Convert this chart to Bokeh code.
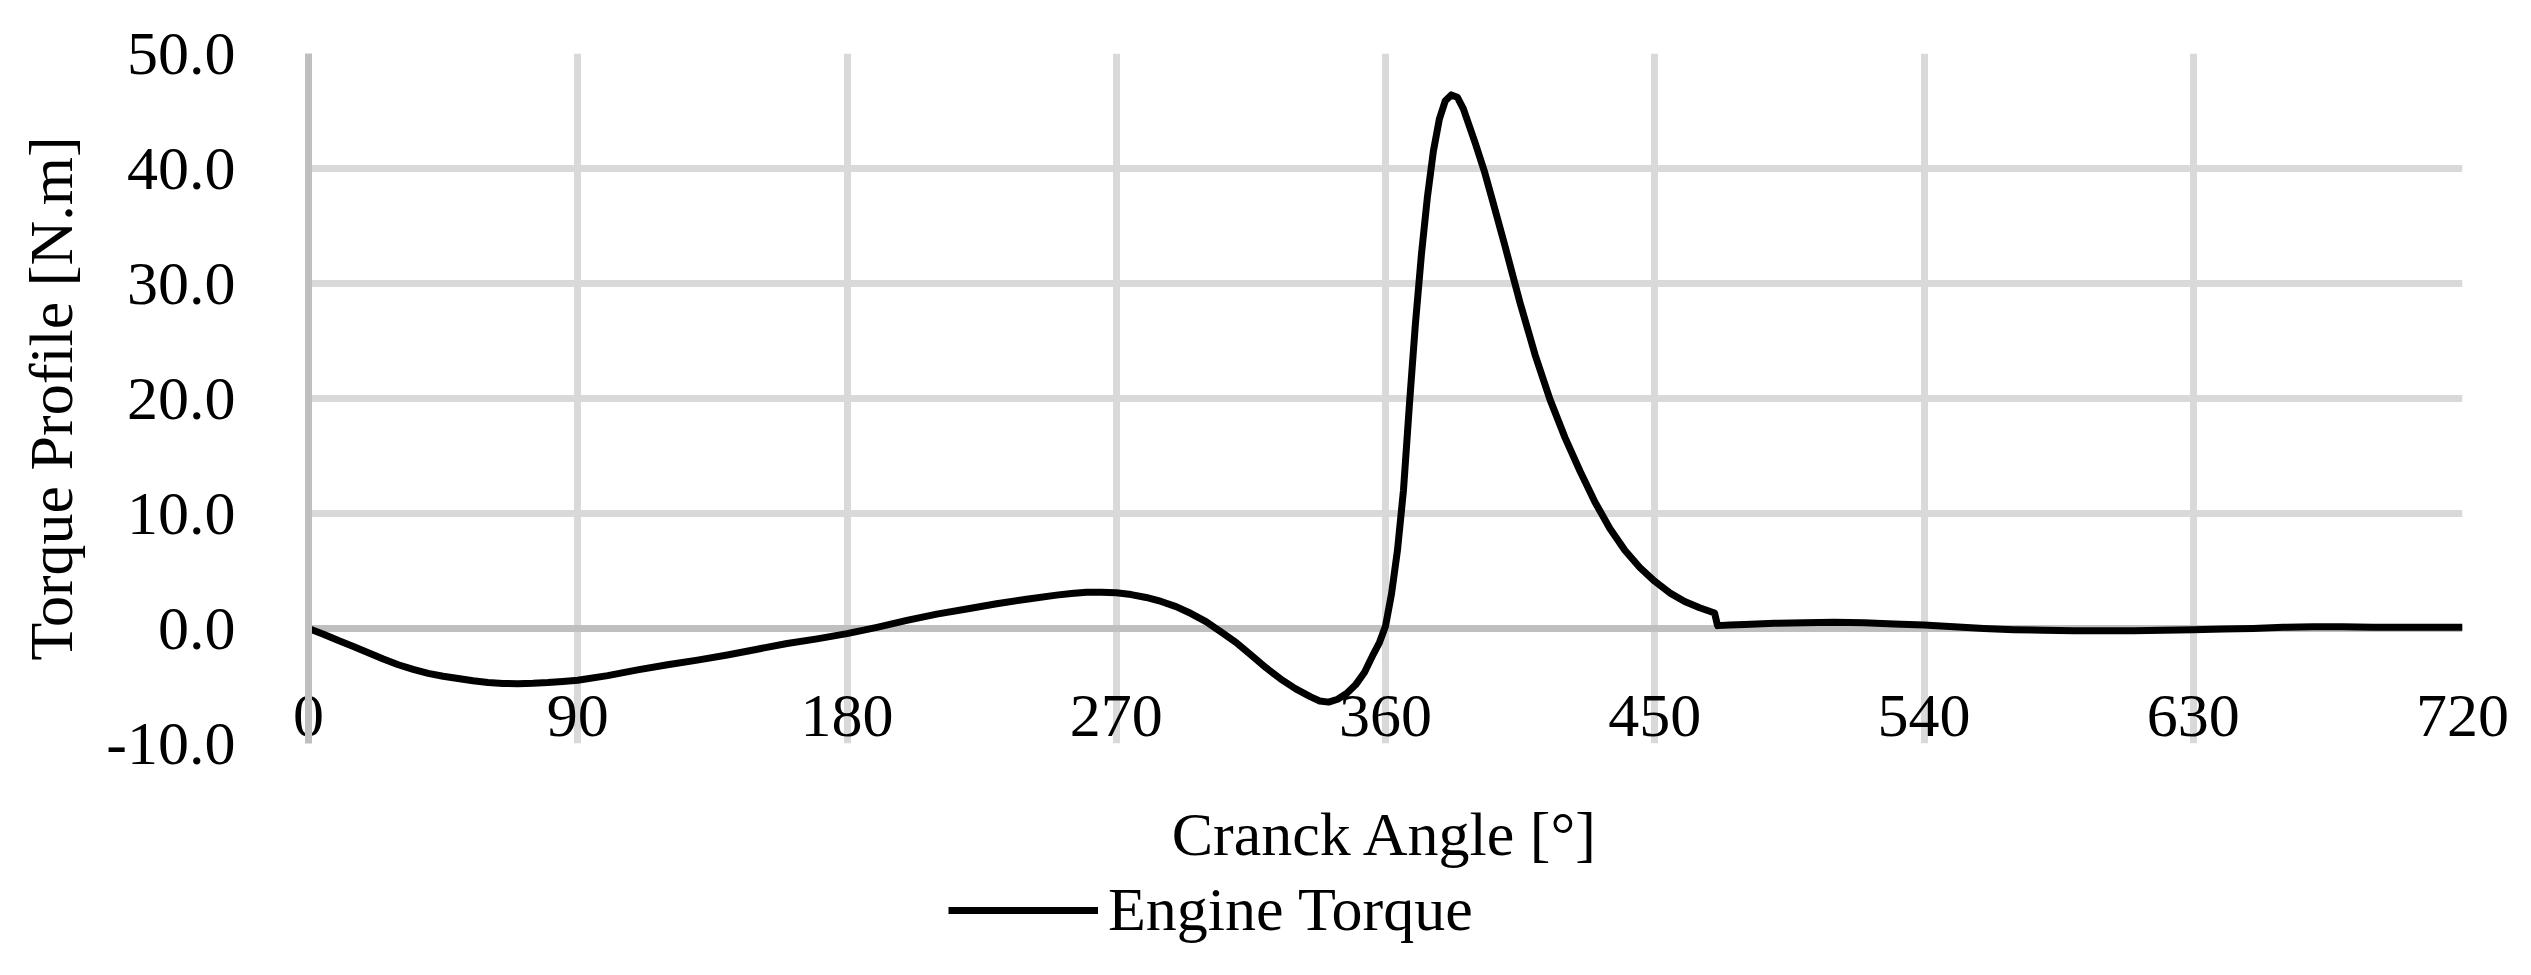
from bokeh.plotting import figure
from bokeh.layouts import column
from bokeh.models import Range1d, FixedTicker, Span, Legend, LegendItem, NumeralTickFormatter
from bokeh.embed import file_html
from bokeh.resources import INLINE

angle = [0, 5, 10, 15, 20, 25, 30, 35, 40, 45, 50, 55, 60, 65, 70, 75, 80, 85, 90,
         100, 110, 120, 130, 140, 150, 160, 170, 180, 190, 200, 210, 220, 230, 240,
         250, 255, 260, 265, 270, 275, 280, 285, 290, 295, 300, 305, 310, 315, 320,
         325, 330, 335, 338, 341, 344, 347, 350, 353, 356, 358, 360, 362, 364, 366,
         368, 370, 372, 374, 376, 378, 380, 382, 384, 386, 388, 390, 393, 396, 400,
         405, 410, 415, 420, 425, 430, 435, 440, 445, 450, 455, 460, 465, 470, 471,
         475, 480, 490, 500, 510, 520, 530, 540, 550, 560, 570, 580, 590, 600, 610,
         620, 630, 640, 650, 660, 670, 680, 690, 700, 710, 720]
torque = [0.0, -0.5, -1.05, -1.56, -2.1, -2.65, -3.15, -3.55, -3.9, -4.15, -4.35, -4.55,
          -4.7, -4.78, -4.8, -4.77, -4.7, -4.6, -4.5,
          -4.1, -3.6, -3.15, -2.75, -2.3, -1.8, -1.3, -0.9, -0.45, 0.1, 0.7, 1.25, 1.7,
          2.15, 2.55, 2.9, 3.05, 3.15, 3.15, 3.1, 2.95, 2.7, 2.35, 1.9, 1.3, 0.6, -0.3,
          -1.2, -2.3, -3.4, -4.4, -5.25, -5.95, -6.3, -6.4, -6.15, -5.65, -4.9, -3.8,
          -2.2, -1.2, 0.2, 3.0, 6.8, 12.0, 19.5, 26.5, 32.5, 37.5, 41.5, 44.3, 45.9,
          46.4, 46.2, 45.2, 43.7, 42.2, 39.8, 37.0, 33.2, 28.3, 23.8, 19.9, 16.6, 13.7,
          11.0, 8.7, 6.8, 5.3, 4.1, 3.1, 2.35, 1.8, 1.35, 0.25,
          0.3, 0.35, 0.45, 0.5, 0.55, 0.5, 0.4, 0.3, 0.15, 0.0, -0.1, -0.15, -0.2, -0.2,
          -0.2, -0.15, -0.1, -0.05, 0.0, 0.1, 0.15, 0.15, 0.1, 0.1, 0.1, 0.1]

x_ticks = [0, 90, 180, 270, 360, 450, 540, 630, 720]
y_ticks = [-10, 0, 10, 20, 30, 40, 50]
x_title = "Cranck Angle [°]"
y_title = "Torque Profile [N.m]"
series_name = "Engine Torque"

FONT = "Liberation Serif"
FS = "62px"

W, H = 2525, 875
p = figure(width=W, height=H, output_backend="svg", toolbar_location=None,
           x_range=Range1d(x_ticks[0], x_ticks[-1]), y_range=Range1d(y_ticks[0], y_ticks[-1]),
           min_border_left=308, min_border_right=W - 2462, min_border_top=53,
           min_border_bottom=H - 743)
p.outline_line_color = None
p.background_fill_color = "white"

for g in (p.xgrid, p.ygrid):
    g.grid_line_color = "#d9d9d9"
    g.grid_line_width = 7
p.xaxis.ticker = FixedTicker(ticks=x_ticks)
p.yaxis.ticker = FixedTicker(ticks=y_ticks)

p.add_layout(Span(location=0, dimension="width", line_color="#bfbfbf", line_width=7, level="underlay"))

r = p.line(angle, torque, line_color="black", line_width=7, line_join="round")

ya = p.yaxis[0]
ya.formatter = NumeralTickFormatter(format="0.0")
ya.axis_line_color = "#bfbfbf"
ya.axis_line_width = 7
ya.major_tick_line_color = None
ya.minor_tick_line_color = None
ya.major_tick_out = 0
ya.major_label_standoff = 73
ya.major_label_text_font = FONT
ya.major_label_text_font_size = FS
ya.major_label_text_color = "black"
ya.axis_label = y_title
ya.axis_label_text_font = FONT
ya.axis_label_text_font_size = FS
ya.axis_label_text_font_style = "normal"
ya.axis_label_text_color = "black"
ya.axis_label_standoff = 18

xa = p.xaxis[0]
xa.axis_line_color = None
xa.major_tick_line_color = None
xa.minor_tick_line_color = None
xa.major_tick_out = 0
xa.major_label_standoff = -48
xa.major_label_text_font = FONT
xa.major_label_text_font_size = FS
xa.major_label_text_color = "black"
xa.axis_label = x_title
xa.axis_label_text_font = FONT
xa.axis_label_text_font_size = FS
xa.axis_label_text_font_style = "normal"
xa.axis_label_text_color = "black"
xa.axis_label_standoff = 61

# legend strip below the chart (its frame is aligned with the chart's frame)
LH = 90
p2 = figure(width=W, height=LH, output_backend="svg", toolbar_location=None,
            x_range=Range1d(0, 1), y_range=Range1d(0, 1), min_border=0,
            x_axis_type=None, y_axis_type=None)
p2.outline_line_color = None
p2.xgrid.visible = False
p2.ygrid.visible = False
r2 = p2.line(angle, torque, line_color="black", line_width=7, visible=False)
legend = Legend(items=[LegendItem(label=series_name, renderers=[r2])],
                location=(640, 20), orientation="horizontal",
                glyph_width=150, glyph_height=40, label_standoff=10,
                label_text_font=FONT, label_text_font_size=FS, label_text_color="black",
                border_line_color=None, background_fill_alpha=0,
                padding=0, margin=0, spacing=0)
p2.add_layout(legend, "center")

open("out.html", "w").write(file_html(column(p, p2, spacing=0), INLINE))
